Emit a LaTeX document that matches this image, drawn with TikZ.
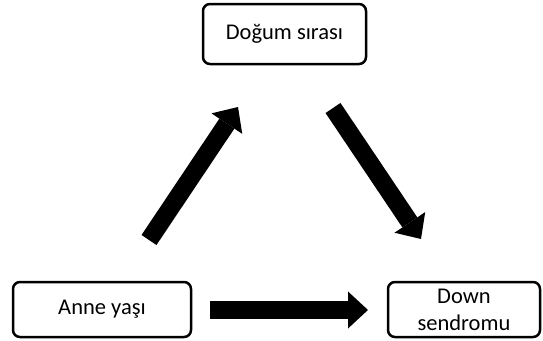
\documentclass[tikz,border=0pt]{standalone}
\usepackage{fontspec}
\setmainfont{Carlito}
\usetikzlibrary{arrows.meta}
\begin{document}
\begin{tikzpicture}[x=1pt,y=-1pt,
  box/.style={draw=black, line width=2.5pt, rounded corners=7pt, fill=white,
    align=center, inner sep=0pt, font=\fontsize{22.5}{27}\selectfont},
  blockarrow/.style={line width=18pt, black, line cap=butt,
    -{Triangle[width=37pt,length=20pt,line width=0pt]}}]
\useasboundingbox (0,0) rectangle (543,340);
\node[box, minimum width=163pt, minimum height=60pt] (dogum) at (284.5,34) {Doğum sırası};
\node[box, minimum width=178pt, minimum height=55pt] (anne) at (102,309.5) {Anne yaşı};
\node[box, minimum width=152pt, minimum height=55pt] (down) at (464,309.5) {Down\\sendromu};
\coordinate (upTail) at (149,240);
\coordinate (upTip) at (238,107);
\coordinate (dnTail) at (333,108);
\coordinate (dnTip) at (421,239);
\coordinate (hTail) at (210,310);
\coordinate (hTip) at (368,310);
\draw[blockarrow] (upTail) -- (upTip);
\draw[blockarrow] (dnTail) -- (dnTip);
\draw[blockarrow] (hTail) -- (hTip);
\end{tikzpicture}
\end{document}
